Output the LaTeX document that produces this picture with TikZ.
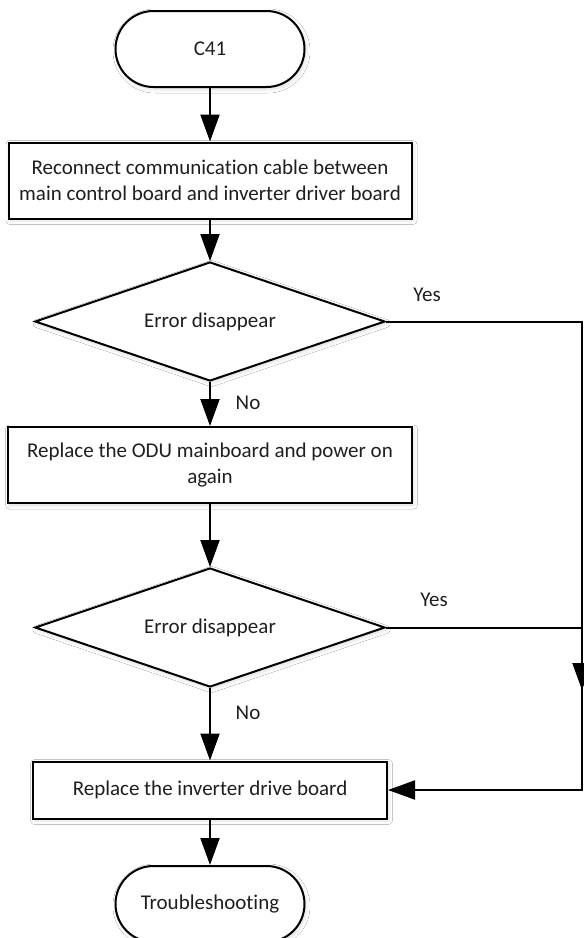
\documentclass[tikz,border=0pt]{standalone}
\usepackage{fontspec}
\setmainfont{Carlito}[Ligatures=NoCommon]
\usetikzlibrary{arrows.meta,shapes.geometric,shapes.misc,shadows.blur}
\begin{document}
\begin{tikzpicture}[x=1pt,y=-1pt,
  every node/.style={font=\fontsize{21}{26}\selectfont, text=black!88},
  base/.style={draw=black, fill=white, line width=2pt, inner sep=0pt, align=center,
    blur shadow={shadow xshift=1.5pt, shadow yshift=-2pt, shadow blur radius=4pt, shadow opacity=15}},
  term/.style={base, rounded rectangle, minimum width=189pt, minimum height=76pt},
  procbox/.style={base, rectangle, minimum height=76pt},
  decision/.style={base, diamond, shape aspect=2.94, minimum width=350pt, minimum height=119pt},
  conn/.style={line width=2pt, -{Triangle[length=27pt,width=19pt]}},
  lbl/.style={inner sep=0pt}
]
\useasboundingbox (0,0) rectangle (584,938);
\fill[white] (0,0) rectangle (584,938);
\clip (0,0) rectangle (584,938);

\node[term] (start) at (210,49) {C41};
\node[procbox, minimum width=403pt] (b1) at (210,180.5) {Reconnect communication cable between\\main control board and inverter driver board};
\node[decision] (d1) at (210,321.5) {Error disappear};
\node[procbox, minimum width=404pt] (b2) at (210,465) {Replace the ODU mainboard and power on\\again};
\node[decision] (d2) at (210,627.5) {Error disappear};
\node[procbox, minimum width=354pt, minimum height=57pt] (b3) at (210,790) {Replace the inverter drive board};
\node[term] (stop) at (210,904) {Troubleshooting};

\coordinate (rc) at (582,0);

\draw[conn] (start.south) -- (b1.north);
\draw[conn] (b1.south) -- (d1.north);
\draw[conn] (d1.south) -- (b2.north);
\draw[conn] (b2.south) -- (d2.north);
\draw[conn] (d2.south) -- (b3.north);
\draw[conn] (b3.south) -- (stop.north);

\draw[conn] (d1.east) -- (d1.east -| rc) -- (b3.east -| rc) -- (b3.east);
\coordinate (tipd) at (582,690);
\draw[conn] (d2.east) -- (d2.east -| rc) -- (tipd);

\node[lbl] (yes1) at (427,295) {Yes};
\node[lbl] (yes2) at (434,600) {Yes};
\node[lbl] (no1) at (248,403) {No};
\node[lbl] (no2) at (248,713) {No};
\end{tikzpicture}
\end{document}
